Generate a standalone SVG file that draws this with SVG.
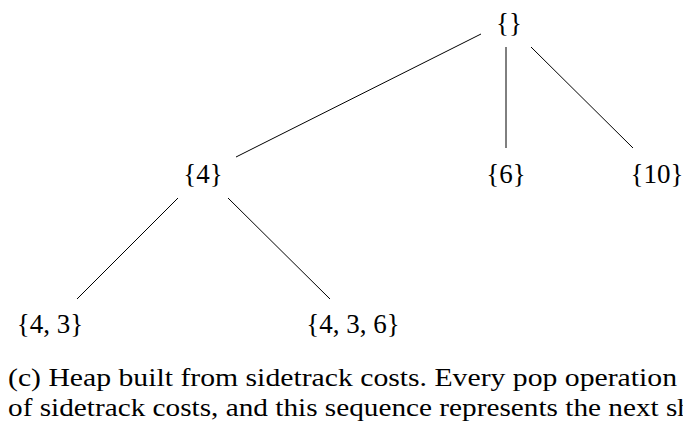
<svg xmlns="http://www.w3.org/2000/svg" width="683" height="426" viewBox="0 0 683 426">
  <style>
    .lbl { font-family: "Liberation Serif", "DejaVu Serif", serif; font-size: 27px; fill: #000; text-anchor: middle; }
    .cap { font-family: "Liberation Serif", "DejaVu Serif", serif; font-size: 25px; fill: #000; }
    .edge { stroke: #000; stroke-width: 1; fill: none; }
  </style>
  <rect width="683" height="426" fill="#fff"/>

  <!-- tree edges -->
  <g id="edges">
    <line class="edge" x1="481" y1="34" x2="236" y2="157"/>
    <line class="edge" x1="506" y1="47" x2="506" y2="148"/>
    <line class="edge" x1="531" y1="47" x2="633" y2="148"/>
    <line class="edge" x1="178" y1="198" x2="77" y2="299"/>
    <line class="edge" x1="228" y1="198" x2="330" y2="299"/>
  </g>

  <!-- heap nodes -->
  <g id="n-root"><text class="lbl" x="509" y="32">{}</text></g>
  <g id="n-4"><text class="lbl" x="203" y="183">{4}</text></g>
  <g id="n-6"><text class="lbl" x="506" y="183">{6}</text></g>
  <g id="n-10"><text class="lbl" x="657" y="183">{10}</text></g>
  <g id="n-4-3"><text class="lbl" x="50" y="333">{4, 3}</text></g>
  <g id="n-4-3-6"><text class="lbl" x="353" y="333">{4, 3, 6}</text></g>

  <!-- caption (second line runs past the right edge) -->
  <text class="cap" x="8" y="386" textLength="669" lengthAdjust="spacingAndGlyphs">(c) Heap built from sidetrack costs. Every pop operation</text>
  <text class="cap" x="8" y="416" textLength="684" lengthAdjust="spacingAndGlyphs">of sidetrack costs, and this sequence represents the next sh</text>
</svg>
